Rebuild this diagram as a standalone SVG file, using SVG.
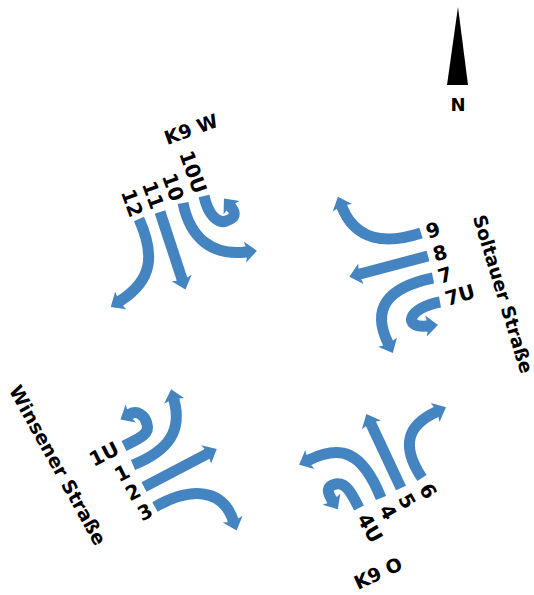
<svg xmlns="http://www.w3.org/2000/svg" width="534" height="595" viewBox="0 0 534 595">
<style>
.a{fill:none;stroke:#4484c0;stroke-width:11;marker-end:url(#h)}
text{font-family:"DejaVu Sans",sans-serif;font-weight:bold;fill:#000;text-anchor:middle;dominant-baseline:central}
.n{font-size:20px}
.s{font-size:19px}
</style>
<defs><marker id="h" markerUnits="userSpaceOnUse" markerWidth="24" markerHeight="24" refX="1" refY="12" orient="auto"><path d="M0,1.5 L12,12 L0,22.5 L2.5,12Z M0,6.5 L5,6.5 L5,17.5 L0,17.5Z" fill="#4484c0"/></marker></defs>
<rect width="534" height="595" fill="#fff"/>
<g id="connectors">
<path class="a" d="M139,219 C155,255 153,280 120,301"/>
<path class="a" d="M160,212 L182,279"/>
<path class="a" d="M183,203 C190,238 212,256 246,252"/>
<path class="a" d="M204,196 C208,215 218,224 226,221 C236,218 236,213 231,207"/>
<path class="a" d="M421,233 C385,245 355,240 342,207"/>
<path class="a" d="M428,256 L360,274"/>
<path class="a" d="M433,278 C385,288 372,310 388,343"/>
<path class="a" d="M440,302 C408,308 402,328 427,326"/>
<path class="a" d="M124,446 C140,438 150,434 147,424 C145,415 137,410 130,414"/>
<path class="a" d="M133,465 C170,450 182,430 174,400"/>
<path class="a" d="M144,487 L207,454"/>
<path class="a" d="M155,507 C190,487 222,488 233,520"/>
<path class="a" d="M359,508 C352,494 346,482 336,484 C326,486 327,492 332,500"/>
<path class="a" d="M381,498 C362,450 340,445 309,460"/>
<path class="a" d="M401,488 L371,424"/>
<path class="a" d="M422,478 C400,445 408,425 436,412"/>
</g>
<g id="north"><polygon points="458,7 447,85 468,85" fill="#000"/><text x="458" y="104" style="font-size:18px">N</text></g>
<g id="k9w"><text class="s" transform="translate(191,129) rotate(-20)">K9 W</text></g>
<g id="l10U"><text class="n" transform="translate(193,172) rotate(70)">10U</text></g>
<g id="l10"><text class="n" transform="translate(173,187) rotate(70)">10</text></g>
<g id="l11"><text class="n" transform="translate(153,195) rotate(70)">11</text></g>
<g id="l12"><text class="n" transform="translate(132,203) rotate(70)">12</text></g>
<g id="l9"><text class="n" transform="translate(433,230) rotate(-16)">9</text></g>
<g id="l8"><text class="n" transform="translate(440,253) rotate(-16)">8</text></g>
<g id="l7"><text class="n" transform="translate(445,275) rotate(-16)">7</text></g>
<g id="l7U"><text class="n" transform="translate(460,295) rotate(-16)">7U</text></g>
<g id="soltauer"><text transform="translate(503,294) rotate(73)" style="font-size:18.5px">Soltauer Straße</text></g>
<g id="winsener"><text class="s" transform="translate(58,465) rotate(61)">Winsener Straße</text></g>
<g id="l1U"><text class="n" transform="translate(104,454) rotate(-27)">1U</text></g>
<g id="l1"><text class="n" transform="translate(122,473) rotate(-27)">1</text></g>
<g id="l2"><text class="n" transform="translate(133,492) rotate(-27)">2</text></g>
<g id="l3"><text class="n" transform="translate(145,512) rotate(-27)">3</text></g>
<g id="l6"><text class="n" transform="translate(428,491) rotate(60)">6</text></g>
<g id="l5"><text class="n" transform="translate(407,501) rotate(60)">5</text></g>
<g id="l4"><text class="n" transform="translate(388,512) rotate(60)">4</text></g>
<g id="l4U"><text class="n" transform="translate(370,528) rotate(60)">4U</text></g>
<g id="k9o"><text class="s" transform="translate(378,573) rotate(-25)">K9 O</text></g>
</svg>
